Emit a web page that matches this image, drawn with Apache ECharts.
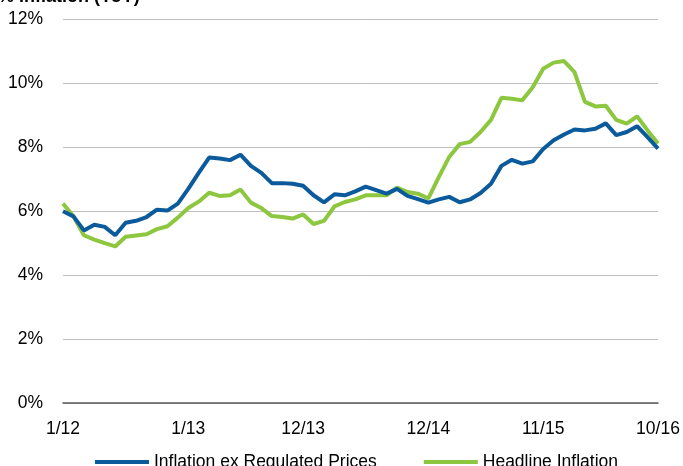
<!DOCTYPE html>
<html>
<head>
<meta charset="utf-8">
<script src="https://cdn.jsdelivr.net/npm/echarts@6/dist/echarts.min.js"></script>
<style>
  html, body { margin: 0; padding: 0; background: #fff; }
  #chart { width: 683px; height: 466px; }
</style>
</head>
<body>
<div id="chart"></div>
<script>
const months = [
  '1/12', '2/12', '3/12', '4/12', '5/12', '6/12', '7/12', '8/12', '9/12', '10/12', '11/12', '12/12',
  '1/13', '2/13', '3/13', '4/13', '5/13', '6/13', '7/13', '8/13', '9/13', '10/13', '11/13', '12/13',
  '1/14', '2/14', '3/14', '4/14', '5/14', '6/14', '7/14', '8/14', '9/14', '10/14', '11/14', '12/14',
  '1/15', '2/15', '3/15', '4/15', '5/15', '6/15', '7/15', '8/15', '9/15', '10/15', '11/15', '12/15',
  '1/16', '2/16', '3/16', '4/16', '5/16', '6/16', '7/16', '8/16', '9/16', '10/16'
]

// labels shown on the x axis
const tickLabels = ['1/12', '1/13', '12/13', '12/14', '11/15', '10/16']

const exRegulated = [
  6.0, 5.84, 5.4, 5.58, 5.51, 5.25, 5.64, 5.7, 5.82, 6.05, 6.02, 6.24,
  6.7, 7.2, 7.68, 7.65, 7.6, 7.77, 7.42, 7.2, 6.88, 6.88, 6.86, 6.8,
  6.5, 6.28, 6.53, 6.5, 6.62, 6.77, 6.66, 6.55, 6.7, 6.48, 6.38, 6.27,
  6.37, 6.45, 6.28, 6.37, 6.57, 6.86, 7.42, 7.61, 7.49, 7.56, 7.95, 8.22,
  8.4, 8.56, 8.53, 8.58, 8.75, 8.38, 8.48, 8.66, 8.32, 7.96
]

const headline = [
  6.24, 5.84, 5.25, 5.11, 5.0, 4.9, 5.2, 5.24, 5.28, 5.44, 5.53, 5.8,
  6.1, 6.3, 6.58, 6.48, 6.5, 6.68, 6.27, 6.1, 5.85, 5.82, 5.77, 5.9,
  5.6, 5.7, 6.15, 6.29, 6.37, 6.5, 6.5, 6.5, 6.74, 6.6, 6.55, 6.4,
  7.07, 7.7, 8.1, 8.17, 8.48, 8.86, 9.55, 9.52, 9.47, 9.88, 10.46, 10.65,
  10.7, 10.35, 9.42, 9.28, 9.3, 8.86, 8.74, 8.97, 8.53, 8.12
]

const FONT = "'Liberation Sans Narrow', 'Arial Narrow', 'Liberation Sans', Arial, sans-serif"
const FS = 17.5

const chart = echarts.init(document.getElementById('chart'))

chart.setOption({
  animation: false,
  color: ['#0A5A9C', '#8DC63F'],
  title: {
    text: '% Inflation (YoY)',
    left: -2,
    top: -12,
    padding: 0,
    textStyle: { fontFamily: FONT, fontSize: 18, fontWeight: 'bold', color: '#000' },
  },
  grid: { left: 63, right: 25, top: 19.5, bottom: 63 },
  legend: {
    left: 90,
    top: 448,
    itemWidth: 54,
    itemHeight: 4,
    itemGap: 47,
    icon: 'rect',
    textStyle: { fontFamily: FONT, fontSize: FS, color: '#000' },
    data: ['Inflation ex Regulated Prices', 'Headline Inflation'],
  },
  xAxis: {
    type: 'category',
    data: months,
    boundaryGap: false,
    axisTick: { show: false },
    axisLine: { lineStyle: { color: '#595959', width: 1.5 } },
    axisLabel: {
      interval: (idx, name) => tickLabels.includes(name),
      margin: 17,
      fontFamily: FONT,
      fontSize: FS,
      color: '#000',
    },
    splitLine: { show: false },
  },
  yAxis: {
    type: 'value',
    min: 0,
    max: 12,
    interval: 2,
    axisLine: { show: false },
    axisTick: { show: false },
    axisLabel: {
      formatter: '{value}%',
      margin: 20,
      fontFamily: FONT,
      fontSize: FS,
      color: '#000',
    },
    splitLine: { lineStyle: { color: '#BFBFBF', width: 1 } },
  },
  series: [
    {
      name: 'Inflation ex Regulated Prices',
      type: 'line',
      data: exRegulated,
      symbol: 'none',
      lineStyle: { width: 4 },
      z: 3,
    },
    {
      name: 'Headline Inflation',
      type: 'line',
      data: headline,
      symbol: 'none',
      lineStyle: { width: 4 },
      z: 2,
    },
  ],
})
</script>
</body>
</html>
